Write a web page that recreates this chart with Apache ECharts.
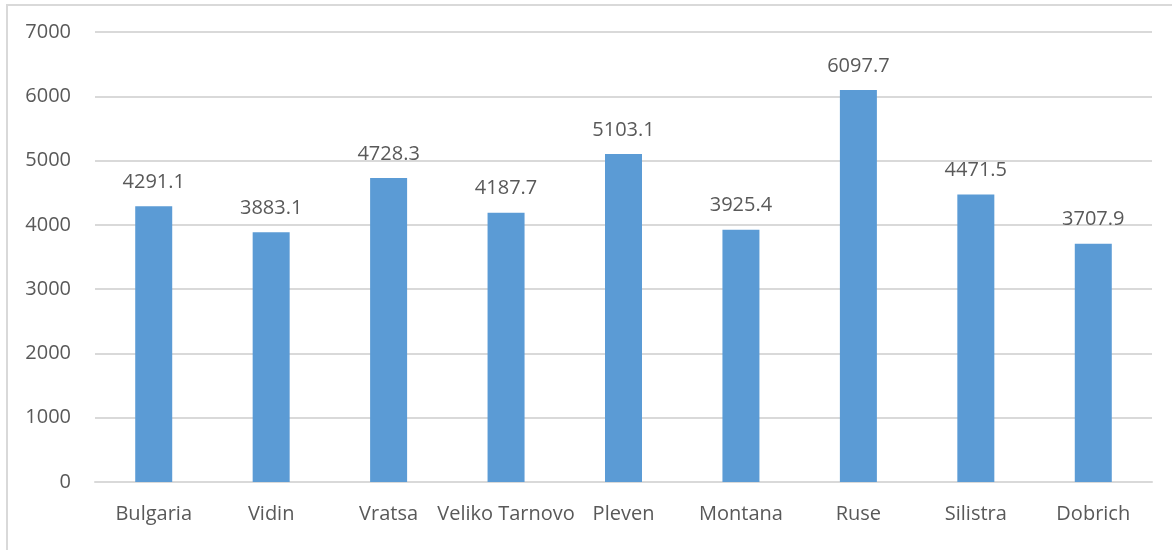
<!DOCTYPE html>
<html>
<head>
<meta charset="utf-8">
<script src="https://cdn.jsdelivr.net/npm/echarts@6/dist/echarts.min.js"></script>
<style>
    html, body { margin: 0; padding: 0; background: #fff; }
    #frame {
        position: absolute; left: 6px; top: 4px; width: 1200px; height: 600px;
        border: 2px solid #d9d9d9; box-sizing: border-box;
    }
    #chart { position: absolute; left: 0; top: 0; width: 1172px; height: 550px; }
</style>
</head>
<body>
<div id="frame"></div>
<div id="chart"></div>
<script>
    const categories = ['Bulgaria', 'Vidin', 'Vratsa', 'Veliko Tarnovo', 'Pleven', 'Montana', 'Ruse', 'Silistra', 'Dobrich'];
    const values = [4291.1, 3883.1, 4728.3, 4187.7, 5103.1, 3925.4, 6097.7, 4471.5, 3707.9];

    const textColor = '#595959';
    const font = '"Open Sans", "Liberation Sans", sans-serif';

    const chart = echarts.init(document.getElementById('chart'));
    chart.setOption({
        animation: false,
        grid: {
            left: 95,
            right: 20,
            top: 32,
            bottom: 68,
            containLabel: false,
        },
        xAxis: {
            type: 'category',
            data: categories,
            axisTick: { show: false },
            axisLine: { lineStyle: { color: '#d9d9d9', width: 2 } },
            axisLabel: {
                color: textColor,
                fontSize: 20,
                fontFamily: font,
                margin: 22,
                interval: 0,
            },
        },
        yAxis: {
            type: 'value',
            min: 0,
            max: 7000,
            interval: 1000,
            axisLine: { show: false },
            axisTick: { show: false },
            splitLine: { lineStyle: { color: '#d9d9d9', width: 2 } },
            axisLabel: {
                color: textColor,
                fontSize: 20,
                fontFamily: font,
                margin: 24,
                formatter: (v) => String(v),
            },
        },
        series: [
            {
                type: 'bar',
                data: values,
                barWidth: 37,
                itemStyle: { color: '#5b9bd5' },
                label: {
                    show: true,
                    position: 'top',
                    distance: 14,
                    color: textColor,
                    fontSize: 20,
                    fontFamily: font,
                },
            },
        ],
    });
</script>
</body>
</html>
